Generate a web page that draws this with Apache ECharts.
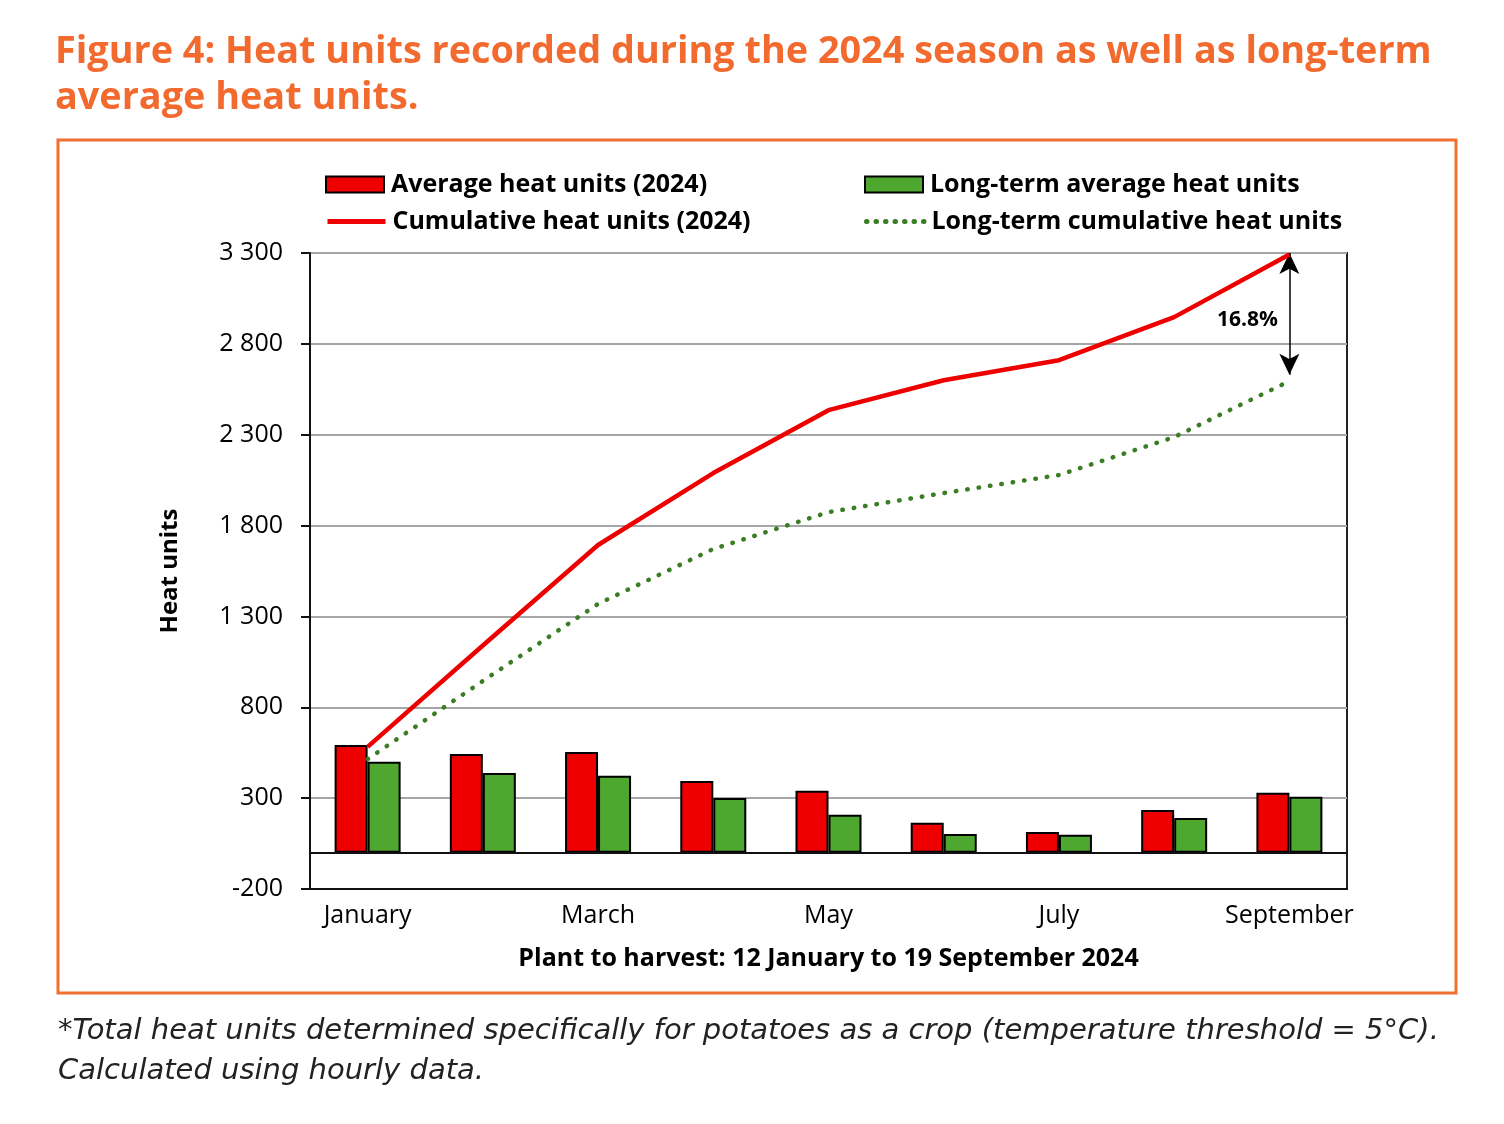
<!DOCTYPE html>
<html>
<head>
<meta charset="utf-8">
<script src="https://cdn.jsdelivr.net/npm/echarts@6/dist/echarts.min.js"></script>
<style>
html,body{margin:0;padding:0;background:#fff;}
#c{width:1504px;height:1124px;}
</style>
</head>
<body>
<div id="c"></div>
<script>
const months = ['January','February','March','April','May','June','July','August','September'];
const avgHeat2024 = [593, 543, 554, 395, 340, 164, 114, 235, 329];
const longTermAvg = [500, 439, 423, 301, 208, 103, 98, 191, 307];
const cumHeat2024 = [582, 1140, 1693, 2089, 2435, 2600, 2710, 2947, 3292];
const longTermCum = [515, 945, 1369, 1671, 1874, 1979, 2078, 2287, 2595];
const yTicks = {min: -200, max: 3300, interval: 500};
const arrowTop = 3300, arrowBottom = 2630;
const diffLabel = '16.8%';
const diffLabelValue = 2932;

const chart = echarts.init(document.getElementById('c'));
const F = 'Open Sans';
const fmt = v => String(v).replace(/\B(?=(\d{3})+(?!\d))/g, ' ');

const legendBase = {
  itemWidth: 58, itemHeight: 16, itemGap: 0, padding: 0,
  textStyle: {fontFamily: F, fontWeight: 'bold', fontSize: 25, color: '#000', padding: [0,0,0,2]},
  selectedMode: false
};
const lineLegend = {
  itemStyle: {opacity: 0, borderWidth: 0}
};

chart.setOption({
  backgroundColor: '#fff',
  title: {
    text: 'Figure 4: Heat units recorded during the 2024 season as well as long-term\naverage heat units.',
    left: 55, top: 29, padding: 0,
    textStyle: {fontFamily: F, fontWeight: 'bold', fontSize: 37.8, color: '#F26A2E', lineHeight: 46}
  },
  legend: [
    Object.assign({}, legendBase, {data: [{name: 'Average heat units (2024)', icon: 'rect'}], left: 325, top: 172}),
    Object.assign({}, legendBase, {data: [{name: 'Long-term average heat units', icon: 'rect'}], left: 864, top: 172}),
    Object.assign({}, legendBase, lineLegend, {data: ['Cumulative heat units (2024)'], left: 325, top: 209,
      lineStyle: {width: 5, color: '#EE0000'}}),
    Object.assign({}, legendBase, lineLegend, {data: ['Long-term cumulative heat units'], left: 864, top: 209,
      lineStyle: {width: 5, color: '#3A7D22', type: [0.5, 9], cap: 'round'}})
  ],
  grid: {left: 310, right: 157, top: 253, bottom: 235, show: true, borderColor: '#222', borderWidth: 2, backgroundColor: 'transparent'},
  xAxis: {
    type: 'category', data: months, boundaryGap: true,
    axisLine: {show: true, onZero: false, lineStyle: {color: '#111', width: 2}},
    axisTick: {show: false},
    axisLabel: {interval: 1, fontFamily: F, fontSize: 25, color: '#000', margin: 14},
    name: 'Plant to harvest: 12 January to 19 September 2024',
    nameLocation: 'middle', nameGap: 57,
    nameTextStyle: {fontFamily: F, fontWeight: 'bold', fontSize: 25, color: '#000'}
  },
  yAxis: {
    type: 'value', min: yTicks.min, max: yTicks.max, interval: yTicks.interval,
    axisLine: {show: true, lineStyle: {color: '#111', width: 2}},
    axisTick: {show: true, inside: false, length: 9, lineStyle: {color: '#111', width: 2}},
    axisLabel: {formatter: fmt, fontFamily: F, fontSize: 25, color: '#000', margin: 27},
    splitLine: {show: true, lineStyle: {color: '#a6a6a6', width: 2}},
    name: 'Heat units', nameLocation: 'middle', nameGap: 128,
    nameTextStyle: {fontFamily: F, fontWeight: 'bold', fontSize: 24, color: '#000'}
  },
  series: [
    {
      name: 'Average heat units (2024)', type: 'bar', data: avgHeat2024,
      barWidth: 33, barGap: '0%',
      itemStyle: {color: '#EE0000', borderColor: '#000', borderWidth: 2},
      markLine: {
        silent: true, symbol: 'none',
        lineStyle: {color: '#111', width: 2, type: 'solid'},
        label: {show: false},
        data: [{yAxis: 0}]
      }
    },
    {
      name: 'Long-term average heat units', type: 'bar', data: longTermAvg,
      barWidth: 33,
      itemStyle: {color: '#4EA72E', borderColor: '#000', borderWidth: 2}
    },
    {
      name: 'Cumulative heat units (2024)', type: 'line', data: cumHeat2024,
      symbol: 'none', z: 5,
      lineStyle: {color: '#EE0000', width: 4.5},
      itemStyle: {color: '#EE0000'},
      markLine: {
        silent: true, symbol: ['arrow', 'arrow'], symbolSize: [15, 21],
        lineStyle: {color: '#000', width: 1.5, type: 'solid'},
        label: {show: false},
        data: [[{coord: ['September', arrowTop]}, {coord: ['September', arrowBottom]}]]
      },
      markPoint: {
        silent: true, symbol: 'circle', symbolSize: 0,
        label: {show: true, formatter: diffLabel, offset: [-42, 0], fontFamily: F, fontWeight: 'bold', fontSize: 21, color: '#000'},
        data: [{coord: ['September', diffLabelValue]}]
      }
    },
    {
      name: 'Long-term cumulative heat units', type: 'line', data: longTermCum,
      symbol: 'none', z: 5,
      lineStyle: {color: '#3A7D22', width: 4.5, type: [0.5, 11], cap: 'round'},
      itemStyle: {color: '#3A7D22'}
    }
  ],
  graphic: [
    {type: 'rect', shape: {x: 58, y: 140, width: 1398, height: 853}, style: {fill: 'none', stroke: '#F07030', lineWidth: 3}, silent: true},
    {type: 'text', left: 58, top: 1011, style: {
      text: '*Total heat units determined specifically for potatoes as a crop (temperature threshold = 5°C).\nCalculated using hourly data.',
      font: 'italic 29px "DejaVu Sans ExtraLight", "DejaVu Sans"', fill: '#222', lineHeight: 40
    }}
  ]
});
</script>
</body>
</html>
